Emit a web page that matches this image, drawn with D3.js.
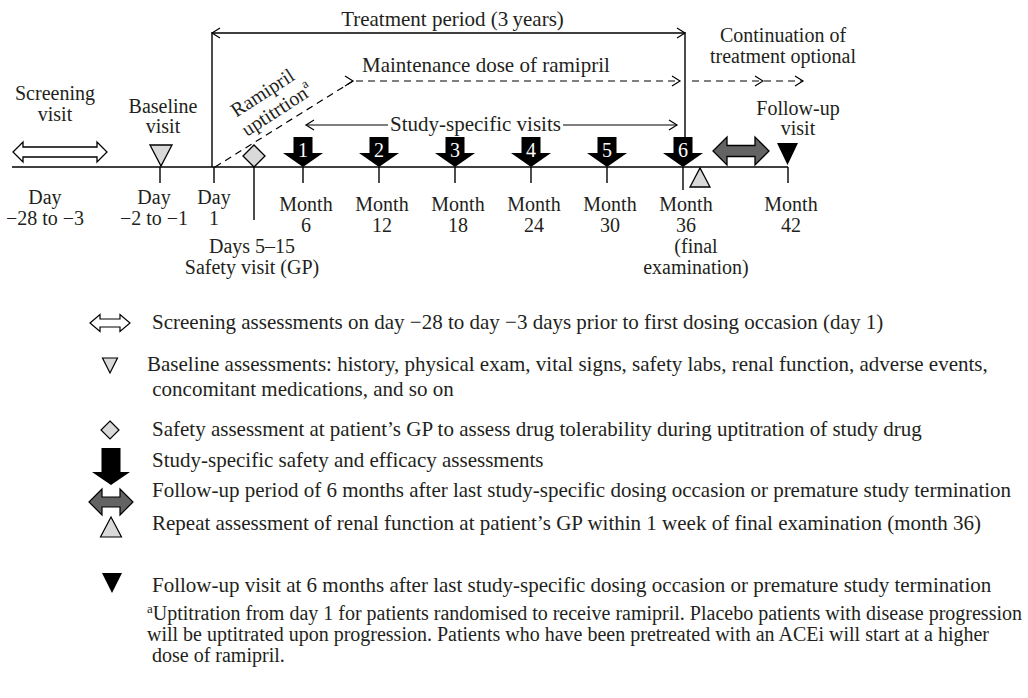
<!DOCTYPE html>
<html>
<head>
<meta charset="utf-8">
<script src="https://cdn.jsdelivr.net/npm/d3@7"></script>
<style>
  body { margin: 0; background: #fff; }
  text { font-family: "Liberation Serif", "Times New Roman", serif; fill: #231f20; }
</style>
</head>
<body>
<div id="chart"></div>
<script>
// ---- data (study days, day 1 = first dose) ----
var milestoneDays = [-28, -3, -1.5, 1, 10, 180, 1080, 1260];
var visitMonths = [6, 12, 18, 24, 30, 36];
var visitNumbers = ["1", "2", "3", "4", "5", "6"];
var followUpMonth = 42;
var screeningDays = [-28, -3];
var baselineDay = -1.5;
var safetyDay = 10;

var dayLabels = [
    ["Day", "\u221228 to \u22123"],
    ["Day", "\u22122 to \u22121"],
    ["Day", "1"]
];
var monthLabels = [
    ["Month", "6"], ["Month", "12"], ["Month", "18"], ["Month", "24"], ["Month", "30"],
    ["Month", "36", "(final", "examination)"], ["Month", "42"]
];
var safetyLabel = ["Days 5\u201315", "Safety visit (GP)"];

var legendKeys = ["screen", "baseline", "safety", "visit", "followup", "renal", "fuvisit"];
var legendText = [
    ["Screening assessments on day \u221228 to day \u22123 days prior to first dosing occasion (day 1)"],
    ["Baseline assessments: history, physical exam, vital signs, safety labs, renal function, adverse events,",
     " concomitant medications, and so on"],
    ["Safety assessment at patient\u2019s GP to assess drug tolerability during uptitration of study drug"],
    ["Study-specific safety and efficacy assessments"],
    ["Follow-up period of 6 months after last study-specific dosing occasion or premature study termination"],
    ["Repeat assessment of renal function at patient\u2019s GP within 1 week of final examination (month 36)"],
    ["Follow-up visit at 6 months after last study-specific dosing occasion or premature study termination"]
];
var footnote = [
    "Uptitration from day 1 for patients randomised to receive ramipril. Placebo patients with disease progression",
    "will be uptitrated upon progression. Patients who have been pretreated with an ACEi will start at a higher",
    " dose of ramipril."
];

// ---- layout ----
var width = 1028, height = 698;
var axisY = 167;
var fs = 21, fsSmall = 20;
var lightGrey = "#d9d9d9", darkGrey = "#636363";

// schematic (broken) time axis: piecewise linear in days
var x = d3.scaleLinear()
    .domain(milestoneDays)
    .range([13, 107, 160, 214, 254, 303, 683, 788]);

var svg = d3.select("#chart").append("svg")
    .attr("width", width)
    .attr("height", height);

function chevron(px, py, dir) {
    return "M" + (px - 8 * dir) + "," + (py - 5) + "L" + px + "," + py + "L" + (px - 8 * dir) + "," + (py + 5);
}
function doubleArrow(x0, x1, cy, hh, sh, hl) {
    return "M" + x0 + "," + cy + "L" + (x0 + hl) + "," + (cy - hh) + "V" + (cy - sh) + "H" + (x1 - hl) +
        "V" + (cy - hh) + "L" + x1 + "," + cy + "L" + (x1 - hl) + "," + (cy + hh) + "V" + (cy + sh) +
        "H" + (x0 + hl) + "V" + (cy + hh) + "Z";
}
function blockArrow(cx, top, shoulder, apex, bw, hw) {
    return "M" + (cx - bw) + "," + top + "H" + (cx + bw) + "V" + shoulder + "H" + (cx + hw) +
        "L" + cx + "," + apex + "L" + (cx - hw) + "," + shoulder + "H" + (cx - bw) + "Z";
}
function triangle(cx, yBase, yApex, hw) {
    return "M" + (cx - hw) + "," + yBase + "H" + (cx + hw) + "L" + cx + "," + yApex + "Z";
}
function diamond(cx, cy, r) {
    return "M" + cx + "," + (cy - r) + "L" + (cx + r) + "," + cy + "L" + cx + "," + (cy + r) + "L" + (cx - r) + "," + cy + "Z";
}
function multiline(g, lines, cx, y0, lh, size) {
    var t = g.append("text").attr("text-anchor", "middle").attr("font-size", size || fsSmall);
    lines.forEach(function(l, i) {
        t.append("tspan").attr("x", cx).attr("y", y0 + i * lh).text(l);
    });
    return t;
}

var diagram = svg.append("g");

// ---- treatment period bracket ----
var tpLeft = x(1) - 2, tpRight = x(visitMonths[5] * 30) + 2, tpY = 33;
diagram.append("path")
    .attr("d", "M" + tpLeft + "," + axisY + "V" + tpY + "H" + tpRight + "V137")
    .attr("fill", "none").attr("stroke", "#000").attr("stroke-width", 1.4);
diagram.append("path").attr("d", chevron(tpLeft, tpY, -1)).attr("fill", "none").attr("stroke", "#000").attr("stroke-width", 1.2);
diagram.append("path").attr("d", chevron(tpRight, tpY, 1)).attr("fill", "none").attr("stroke", "#000").attr("stroke-width", 1.2);
diagram.append("text").attr("x", (tpLeft + tpRight) / 2 + 4).attr("y", 26)
    .attr("text-anchor", "middle").attr("font-size", fs)
    .text("Treatment period (3\u2009years)");

// ---- uptitration / maintenance (dashed) ----
var maintX = x(visitMonths[0] * 30) + 50, maintY = 81;
var dash = "7,5";
diagram.append("line")
    .attr("x1", x(1) + 1).attr("y1", axisY).attr("x2", maintX).attr("y2", maintY)
    .attr("stroke", "#000").attr("stroke-width", 1.2).attr("stroke-dasharray", dash);
diagram.append("path").attr("d", chevron(maintX, maintY, 1)).attr("fill", "none").attr("stroke", "#000").attr("stroke-width", 1.2);
diagram.append("line")
    .attr("x1", maintX + 3).attr("y1", maintY).attr("x2", x(1080) - 3).attr("y2", maintY)
    .attr("stroke", "#000").attr("stroke-width", 1.2).attr("stroke-dasharray", dash);
diagram.append("path").attr("d", chevron(x(1080) - 3, maintY, 1)).attr("fill", "none").attr("stroke", "#000").attr("stroke-width", 1.2);
diagram.append("text").attr("x", maintX + 9).attr("y", 72).attr("font-size", fs)
    .text("Maintenance dose of ramipril");

// continuation (optional)
var contStart = x(1080) + 9, contMid = x(1080) + 80, contEnd = x(followUpMonth * 30) + 15;
diagram.append("line")
    .attr("x1", contStart).attr("y1", maintY).attr("x2", contEnd).attr("y2", maintY)
    .attr("stroke", "#000").attr("stroke-width", 1.2).attr("stroke-dasharray", dash);
[contMid, contEnd].forEach(function(px) {
    diagram.append("path").attr("d", chevron(px, maintY, 1)).attr("fill", "none").attr("stroke", "#000").attr("stroke-width", 1.2);
});
multiline(diagram, ["Continuation of", "treatment optional"], x(followUpMonth * 30) - 5, 42, 21);

// rotated uptitration label
var up = diagram.append("g").attr("transform", "translate(264,95) rotate(-33)");
up.append("text").attr("text-anchor", "middle").attr("y", 4).attr("font-size", fsSmall).text("Ramipril");
var ut = up.append("text").attr("text-anchor", "middle").attr("y", 26).attr("x", 3).attr("font-size", fsSmall);
ut.append("tspan").text("uptitrtion");
ut.append("tspan").attr("font-size", 13).attr("dy", -9).text("a");

// ---- study-specific visits arrow ----
var ssY = 125, ssL = x(visitMonths[0] * 30) + 3, ssR = x(visitMonths[5] * 30) - 6;
var ssText = diagram.append("text").attr("x", (ssL + ssR) / 2 - 16).attr("y", 131)
    .attr("text-anchor", "middle").attr("font-size", fs).text("Study-specific visits");
var bb = ssText.node().getBBox();
diagram.append("line").attr("x1", ssL).attr("x2", bb.x - 2).attr("y1", ssY).attr("y2", ssY).attr("stroke", "#000").attr("stroke-width", 1.2);
diagram.append("line").attr("x1", bb.x + bb.width + 2).attr("x2", ssR).attr("y1", ssY).attr("y2", ssY).attr("stroke", "#000").attr("stroke-width", 1.2);
diagram.append("path").attr("d", chevron(ssL, ssY, -1)).attr("fill", "none").attr("stroke", "#000").attr("stroke-width", 1.2);
diagram.append("path").attr("d", chevron(ssR, ssY, 1)).attr("fill", "none").attr("stroke", "#000").attr("stroke-width", 1.2);

// ---- axis line and ticks ----
diagram.append("line")
    .attr("x1", x(-28) - 1).attr("x2", x(followUpMonth * 30)).attr("y1", axisY).attr("y2", axisY)
    .attr("stroke", "#000").attr("stroke-width", 1.6);

var tickDays = [baselineDay, 1, safetyDay].concat(visitMonths.map(function(m) { return m * 30; }), [followUpMonth * 30]);
diagram.selectAll(".tick").data(tickDays).enter().append("line")
    .attr("class", "tick")
    .attr("x1", function(d) { return x(d); }).attr("x2", function(d) { return x(d); })
    .attr("y1", function(d) { return d === safetyDay ? 156 : axisY; })
    .attr("y2", function(d) { return d === safetyDay ? 220 : (d === 1080 ? 190 : axisY + 16); })
    .attr("stroke", "#000").attr("stroke-width", 1.4);

// ---- axis labels ----
var dayLabelDays = [(screeningDays[0] + screeningDays[1]) / 2 - 4, baselineDay, 1];
dayLabels.forEach(function(lines, i) {
    multiline(diagram, lines, x(dayLabelDays[i]) + (i === 1 ? -6 : 0), 204, 21);
});
var monthDays = visitMonths.concat([followUpMonth]).map(function(m) { return m * 30; });
monthLabels.forEach(function(lines, i) {
    var t = multiline(diagram, lines, x(monthDays[i]) + 3, 211, 21);
    t.selectAll("tspan").filter(function(d, j) { return j >= 2; }).attr("dx", 10);
});
multiline(diagram, safetyLabel, x(safetyDay) - 2, 253, 21);

// ---- event markers ----
// screening double arrow
diagram.append("path")
    .attr("d", doubleArrow(x(screeningDays[0]), x(screeningDays[1]), 152, 10, 5, 10))
    .attr("fill", "#fff").attr("stroke", "#000").attr("stroke-width", 1.3);
multiline(diagram, ["Screening", "visit"], (x(screeningDays[0]) + x(screeningDays[1])) / 2 - 5, 100, 21);

// baseline visit
diagram.append("path").attr("d", triangle(x(baselineDay) + 1, 145, 166, 11))
    .attr("fill", lightGrey).attr("stroke", "#000").attr("stroke-width", 1.3);
multiline(diagram, ["Baseline", "visit"], x(baselineDay) + 3, 113, 20);

// safety visit diamond
diagram.append("path").attr("d", diamond(x(safetyDay), 156, 11))
    .attr("fill", lightGrey).attr("stroke", "#000").attr("stroke-width", 1.3);

// study-specific visit block arrows
var visits = diagram.selectAll(".visit").data(visitMonths).enter().append("g").attr("class", "visit");
visits.append("path")
    .attr("d", function(m) { return blockArrow(x(m * 30), 137, 153, axisY, 9.5, 20); })
    .attr("fill", "#000");
visits.append("text")
    .attr("x", function(m) { return x(m * 30); }).attr("y", 157)
    .attr("text-anchor", "middle").attr("font-size", 20).style("fill", "#fff")
    .text(function(m, i) { return visitNumbers[i]; });

// renal function repeat (within 1 week of final exam)
diagram.append("path").attr("d", triangle(x(1080) + 17, 187, 168, 10))
    .attr("fill", lightGrey).attr("stroke", "#000").attr("stroke-width", 1.3);

// follow-up period arrow
diagram.append("path")
    .attr("d", doubleArrow(x(1080) + 30, x(followUpMonth * 30) - 19, 151, 14, 5.5, 14))
    .attr("fill", darkGrey).attr("stroke", "#000").attr("stroke-width", 1.3);

// follow-up visit
diagram.append("path").attr("d", triangle(x(followUpMonth * 30) - 0.5, 143, 165, 10.5)).attr("fill", "#000");
multiline(diagram, ["Follow-up", "visit"], x(followUpMonth * 30) + 10, 115, 20);

// ---- legend ----
var legendRowY = [329, 371, 436, 467, 497, 530, 592];
var legendTextX = 152;
var legend = svg.append("g");

function legendSymbol(key, cx, cy) {
    if (key === "screen") {
        legend.append("path").attr("d", doubleArrow(cx - 20, cx + 20, cy, 8.5, 4, 10))
            .attr("fill", "#fff").attr("stroke", "#000").attr("stroke-width", 1.2);
    } else if (key === "baseline") {
        legend.append("path").attr("d", triangle(cx, cy - 7, cy + 8, 7.5))
            .attr("fill", lightGrey).attr("stroke", "#000").attr("stroke-width", 1.2);
    } else if (key === "safety") {
        legend.append("path").attr("d", diamond(cx, cy, 9))
            .attr("fill", lightGrey).attr("stroke", "#000").attr("stroke-width", 1.2);
    } else if (key === "visit") {
        legend.append("path").attr("d", blockArrow(cx + 1, cy - 18, cy + 6, cy + 19, 9.5, 19)).attr("fill", "#000");
    } else if (key === "followup") {
        legend.append("path").attr("d", doubleArrow(cx - 21, cx + 23, cy, 13, 5, 13))
            .attr("fill", darkGrey).attr("stroke", "#000").attr("stroke-width", 1.2);
    } else if (key === "renal") {
        legend.append("path").attr("d", triangle(cx + 1, cy + 10, cy - 10, 10.5))
            .attr("fill", lightGrey).attr("stroke", "#000").attr("stroke-width", 1.2);
    } else if (key === "fuvisit") {
        legend.append("path").attr("d", triangle(cx + 2, cy - 10, cy + 10, 10)).attr("fill", "#000");
    }
}

var symbolCY = [323, 365, 430, 466, 502, 527, 583];
legendKeys.forEach(function(key, i) {
    legendSymbol(key, 110, symbolCY[i]);
    var t = legend.append("text").attr("font-size", fs).attr("xml:space", "preserve");
    legendText[i].forEach(function(line, j) {
        t.append("tspan").attr("x", key === "baseline" ? legendTextX - 5 : legendTextX)
            .attr("y", legendRowY[i] + j * 25).text(line);
    });
});

// footnote (first line runs past the right edge, as in the original)
var fn = legend.append("text").attr("font-size", fsSmall).attr("xml:space", "preserve");
var fnY = [620, 641, 662];
footnote.forEach(function(line, j) {
    var row = fn.append("tspan").attr("x", legendTextX - 5).attr("y", fnY[j]);
    if (j === 0) {
        row.append("tspan").attr("font-size", 13).attr("dy", -7).text("a");
        fn.append("tspan").attr("dy", 7).text(line);
    } else {
        row.text(line);
    }
});
</script>
</body>
</html>
